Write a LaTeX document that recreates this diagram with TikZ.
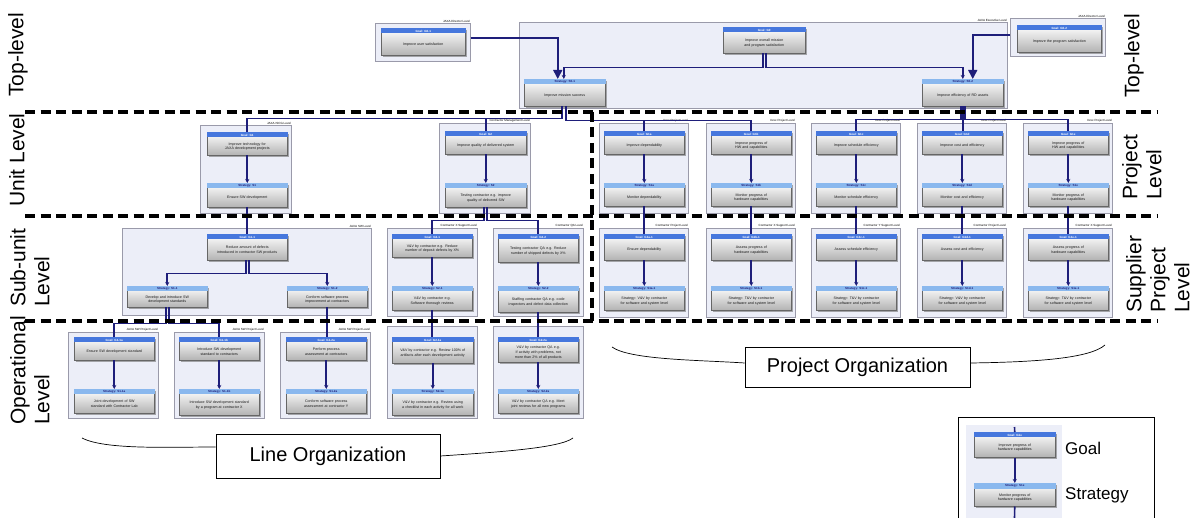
\documentclass[tikz,border=0pt]{standalone}
\usepackage{fontspec}
\setmainfont{Liberation Sans}
\usetikzlibrary{arrows.meta,shadows}
\definecolor{conncol}{HTML}{1E1E7A}
\definecolor{framefill}{HTML}{ECEEF8}
\definecolor{frameline}{HTML}{9A9AAA}
\definecolor{goalhdr}{HTML}{4677DD}
\definecolor{strathdr}{HTML}{8AB8EE}
\newcommand\nohyph{\hyphenpenalty 10000 \exhyphenpenalty 10000 }
\tikzset{
  frame/.style={draw=frameline, fill=framefill, line width=0.6pt, inner sep=0pt},
  bodybox/.style={draw=black!60, line width=0.5pt, top color=white, bottom color=black!30, inner sep=0pt,
     drop shadow={shadow xshift=1.3pt, shadow yshift=-1.3pt, fill=black!55, opacity=0.6}},
  ghdr/.style={fill=goalhdr},
  shdr/.style={fill=strathdr},
  ghdrtext/.style={text=white, font=\fontsize{3}{3.5}\selectfont\bfseries, inner sep=0pt},
  shdrtext/.style={text=conncol, font=\fontsize{3}{3.5}\selectfont\bfseries, inner sep=0pt},
  bodytext/.style={font=\fontsize{3.6}{4.6}\selectfont\nohyph, align=center, inner sep=0pt, text=black!90},
  conn/.style={draw=conncol, line width=1.6pt},
  arr/.style={-{Stealth[length=4pt,width=4pt]}},
  bigarr/.style={-{Triangle[length=9pt,width=9pt]}},
  sep/.style={draw=black, line width=3.6pt, dash pattern=on 10pt off 5.5pt},
  lvl/.style={rotate=90, anchor=north west, align=left, inner sep=0pt, font=\fontsize{21}{24}\selectfont},
  boxlabel/.style={font=\fontsize{3}{3.5}\selectfont, anchor=south east, inner sep=0.5pt},
  orgbox/.style={draw=black, line width=0.8pt, fill=white, font=\fontsize{20}{24}\selectfont, inner sep=0pt},
  brace/.style={draw=black, line width=0.7pt},
  legtext/.style={font=\fontsize{17}{20}\selectfont, anchor=west, inner sep=0pt},
}
\newcommand\gsbox[8]{%
  \node[bodybox, minimum width=#5pt, minimum height=#6pt, anchor=north west] (#1) at (#3,#4) {};
  \fill[#2] (#1.north west) rectangle ([yshift=-5.5pt]#1.north east);
  \node[#2text, anchor=north, minimum height=5.5pt] (#1-h) at (#1.north) {#7};
  \pgfmathsetmacro\gsw{#5-16}%
  \node[bodytext, text width=\gsw pt] (#1-t) at ([yshift=-2.75pt]#1.center) {#8};
}
\newcommand\frm[6]{%
  \node[frame, minimum width=#4pt, minimum height=#5pt, anchor=north west] (#1) at (#2,#3) {};
  \node[boxlabel] (#1-l) at (#1.north east) {#6};
}
\begin{document}
\begin{tikzpicture}[x=1pt,y=-1pt]
\useasboundingbox (0,0) rectangle (1197,518);

% ---------- frames ----------
\frm{fDL}{375}{23}{95}{38}{JAXA Director Level}
\frm{fEX}{519}{22}{488}{86}{JAXA Executive Level}
\frm{fDR}{1010}{18}{95}{38}{JAXA Director Level}
\frm{fA}{200}{125}{91}{88}{JAXA ISCG Level}
\frm{fB}{439}{123}{91}{90}{Contractor Management Level}
\frm{fP1}{599}{123}{89}{90}{Xxxx Project Level}
\frm{fP2}{706}{123}{89}{90}{Xxxx Project Level}
\frm{fP3}{811}{123}{89}{90}{Xxxx Project Level}
\frm{fP4}{917}{123}{89}{90}{Xxxx Project Level}
\frm{fP5}{1023}{123}{89}{90}{Xxxx Project Level}
\frm{fSW}{122}{228}{249}{87}{JAXA SW Level}
\frm{fC}{387}{228}{90}{88}{Contractor X Support Level}
\frm{fD}{493}{228}{90}{88}{Contractor QA Level}
\frm{fSP1}{599}{228}{89}{89}{Contractor Project Level}
\frm{fSP2}{706}{228}{89}{89}{Contractor X Support Level}
\frm{fSP3}{811}{228}{89}{89}{Contractor Y Support Level}
\frm{fSP4}{917}{228}{89}{89}{Contractor Project Level}
\frm{fSP5}{1023}{228}{89}{89}{Contractor X Support Level}
\frm{fO1}{68}{332}{90}{86}{JAXA SW Project Level}
\frm{fO2}{174}{332}{90}{86}{JAXA SW Project Level}
\frm{fO3}{280}{332}{90}{86}{JAXA SW Project Level}
\node[frame, minimum width=90pt, minimum height=92pt, anchor=north west] (fO4) at (387,326) {};
\node[frame, minimum width=90pt, minimum height=92pt, anchor=north west] (fO5) at (493,326) {};
\node[fill=framefill, minimum width=96pt, minimum height=93pt, anchor=north west, inner sep=0pt] (fL) at (966,425) {};

% ---------- coordinates ----------
\coordinate (legtop) at (1014.5,427);
\coordinate (legbot) at (1014.5,518);
\coordinate (lo1) at (82,438);
\coordinate (lo2) at (573,438);
\coordinate (po1) at (612,347);
\coordinate (po2) at (1105,345);

% ---------- nodes ----------
\gsbox{gDL}{ghdr}{381}{28}{84}{27}{Goal: G0-1}{Improve user satisfaction}
\gsbox{gE}{ghdr}{723}{27}{82}{26}{Goal: G0}{Improve overall mission and program satisfaction}
\gsbox{sE1}{shdr}{524}{79}{81}{27}{Strategy: S0-1}{Improve mission success}
\gsbox{sE2}{shdr}{922}{79}{81}{27}{Strategy: S0-2}{Improve efficiency of RD assets}
\gsbox{gDR}{ghdr}{1017}{25}{84}{27}{Goal: G0-2}{Improve the program satisfaction}

\gsbox{gA}{ghdr}{207}{132}{80}{23}{Goal: G1}{Improve technology for JAXA development projects}
\gsbox{sA}{shdr}{207}{183}{80}{24}{Strategy: S1}{Ensure SW development}
\gsbox{gB}{ghdr}{445}{131}{81}{23}{Goal: G2}{Improve quality of delivered system}
\gsbox{sB}{shdr}{445}{183}{81}{24}{Strategy: S2}{Testing contractor e.g. improve quality of delivered SW}

\gsbox{gP1}{ghdr}{604}{131}{80}{23}{Goal: G1a}{Improve dependability}
\gsbox{sP1}{shdr}{604}{183}{80}{23}{Strategy: S1a}{Monitor dependability}
\gsbox{gP2}{ghdr}{711}{131}{80}{23}{Goal: G1b}{Improve progress of HW and capabilities}
\gsbox{sP2}{shdr}{711}{183}{80}{23}{Strategy: S1b}{Monitor progress of hardware capabilities}
\gsbox{gP3}{ghdr}{816}{131}{80}{23}{Goal: G1c}{Improve schedule efficiency}
\gsbox{sP3}{shdr}{816}{183}{80}{23}{Strategy: S1c}{Monitor schedule efficiency}
\gsbox{gP4}{ghdr}{922}{131}{80}{23}{Goal: G1d}{Improve cost and efficiency}
\gsbox{sP4}{shdr}{922}{183}{80}{23}{Strategy: S1d}{Monitor cost and efficiency}
\gsbox{gP5}{ghdr}{1028}{131}{80}{23}{Goal: G1e}{Improve progress of HW and capabilities}
\gsbox{sP5}{shdr}{1028}{183}{80}{23}{Strategy: S1e}{Monitor progress of hardware capabilities}

\gsbox{gSW}{ghdr}{207}{234}{80}{26}{Goal: G1-1}{Reduce amount of defects introduced in contractor SW products}
\gsbox{sSW1}{shdr}{127}{286}{80}{21}{Strategy: S1-1}{Develop and introduce SW development standards}
\gsbox{sSW2}{shdr}{287}{286}{80}{21}{Strategy: S1-2}{Conform software process improvement at contractors}
\gsbox{gC}{ghdr}{392}{234}{80}{23}{Goal: G2-1}{V\&V by contractor e.g. Reduce number of deposit defects by X\%}
\gsbox{sC}{shdr}{392}{286}{80}{24}{Strategy: S2-1}{V\&V by contractor e.g. Software thorough reviews}
\gsbox{gD}{ghdr}{498}{234}{80}{28}{Goal: G2-2}{Testing contractor QA e.g. Reduce number of shipped defects by X\%}
\gsbox{sD}{shdr}{498}{286}{80}{26}{Strategy: S2-2}{Staffing contractor QA e.g. code inspectors and defect data collection}

\gsbox{gSP1}{ghdr}{604}{234}{80}{26}{Goal: G1a-1}{Ensure dependability}
\gsbox{sSP1}{shdr}{604}{286}{80}{24}{Strategy: S1a-1}{Strategy: V\&V by contractor for software and system level}
\gsbox{gSP2}{ghdr}{711}{234}{80}{26}{Goal: G1b-1}{Assess progress of hardware capabilities}
\gsbox{sSP2}{shdr}{711}{286}{80}{24}{Strategy: S1b-1}{Strategy: T\&V by contractor for software and system level}
\gsbox{gSP3}{ghdr}{816}{234}{80}{26}{Goal: G1c-1}{Assess schedule efficiency}
\gsbox{sSP3}{shdr}{816}{286}{80}{24}{Strategy: S1c-1}{Strategy: T\&V by contractor for software and system level}
\gsbox{gSP4}{ghdr}{922}{234}{80}{26}{Goal: G1d-1}{Assess cost and efficiency}
\gsbox{sSP4}{shdr}{922}{286}{80}{24}{Strategy: S1d-1}{Strategy: V\&V by contractor for software and system level}
\gsbox{gSP5}{ghdr}{1028}{234}{80}{26}{Goal: G1e-1}{Assess progress of hardware capabilities}
\gsbox{sSP5}{shdr}{1028}{286}{80}{24}{Strategy: S1e-1}{Strategy: T\&V by contractor for software and system level}

\gsbox{gO1}{ghdr}{74}{337}{80}{23}{Goal: G1-1a}{Ensure SW development standard}
\gsbox{sO1}{shdr}{74}{389}{80}{24}{Strategy: S1-1a}{Joint development of SW standard with Contractor Lab}
\gsbox{gO2}{ghdr}{179}{337}{80}{23}{Goal: G1-1b}{Introduce SW development standard to contractors}
\gsbox{sO2}{shdr}{179}{389}{80}{26}{Strategy: S1-1b}{Introduce SW development standard by a program at contractor X}
\gsbox{gO3}{ghdr}{286}{337}{80}{23}{Goal: G1-2a}{Perform process assessment at contractors}
\gsbox{sO3}{shdr}{286}{389}{80}{24}{Strategy: S1-2a}{Conform software process assessment at contractor Y}
\gsbox{gO4}{ghdr}{392}{337}{81}{26}{Goal: G2-1a}{V\&V by contractor e.g. Review 100\% of artifacts after each development activity}
\gsbox{sO4}{shdr}{392}{389}{81}{26}{Strategy: S2-1a}{V\&V by contractor e.g. Review using a checklist in each activity for all work}
\gsbox{gO5}{ghdr}{498}{337}{80}{25}{Goal: G2-2a}{V\&V by contractor QA e.g. If activity with problems, not more than 2\% of all products}
\gsbox{sO5}{shdr}{498}{389}{80}{24}{Strategy: S2-2a}{V\&V by contractor QA e.g. Meet joint reviews for all new programs}

\gsbox{gL}{ghdr}{974}{432}{81}{25}{Goal: G1e}{Improve progress of hardware capabilities}
\gsbox{sL}{shdr}{974}{483}{81}{23}{Strategy: S1e}{Monitor progress of hardware capabilities}

% ---------- connectors ----------
\draw[conn,bigarr] ([yshift=4pt]fDL.east) -| ([xshift=-7pt]sE1.north);
\draw[conn,arr] ([xshift=-1.5pt]gE.south) -- ++(0,14) -| ([xshift=-1pt]sE1.north);
\draw[conn,arr] ([xshift=1.5pt]gE.south) -- ++(0,14) -| (sE2.north);
\draw[conn,bigarr] ([yshift=2pt]fDR.west) -| ([xshift=10pt]sE2.north);

\draw[conn] ([xshift=-3pt]sE1.south) -- ++(0,12) -| (gA.north);
\draw[conn] ([xshift=-3pt]sE1.south) -- ++(0,12) -| (gB.north);
\draw[conn] ([xshift=1.5pt]sE1.south) -- ++(0,14) -| (gP1.north);
\draw[conn] ([xshift=1.5pt]sE1.south) -- ++(0,14) -| (gP2.north);
\draw[conn] ([xshift=-2pt]sE2.south) -- ++(0,13) -| (gP3.north);
\draw[conn] (sE2.south) -- (sE2.south |- gP4.north);
\draw[conn] ([xshift=2pt]sE2.south) -- ++(0,13) -| (gP5.north);

\foreach \i in {A,B,P1,P2,P3,P4,P5,C,D,SP1,SP2,SP3,SP4,SP5,O1,O2,O3,O4,O5}{
  \draw[conn,arr] (g\i.south) -- (s\i.north);
}
\draw[conn,arr] ([xshift=-1.5pt]gSW.south) -- ++(0,13) -| (sSW1.north);
\draw[conn,arr] ([xshift=1.5pt]gSW.south) -- ++(0,13) -| (sSW2.north);

\draw[conn] (sA.south) -- (sA.south |- gSW.north);
\draw[conn] ([xshift=-1.5pt]sB.south) -- ++(0,13) -| (gC.north);
\draw[conn] ([xshift=1.5pt]sB.south) -- ++(0,13) -| (gD.north);
\foreach \i in {1,...,5}{
  \draw[conn] (sP\i.south) -- (sP\i.south |- gSP\i.north);
}
\draw[conn] ([xshift=-1.5pt]sSW1.south) -- ++(0,16) -| (gO1.north);
\draw[conn] ([xshift=1.5pt]sSW1.south) -- ++(0,16) -| (gO2.north);
\draw[conn] (sSW2.south) -- (sSW2.south |- gO3.north);
\draw[conn] (sC.south) -- (sC.south |- gO4.north);
\draw[conn] (sD.south) -- (sD.south |- gO5.north);

\draw[conn] (legtop) -- (gL.north);
\draw[conn,arr] (gL.south) -- (sL.north);
\draw[conn] (sL.south) -- (legbot);

% ---------- separators ----------
\draw[sep] (25,112) -- (1158,112);
\draw[sep] (25,216) -- (1158,216);
\draw[sep] (25,321) -- (1158,321);
\draw[sep] (592,112) -- (592,321);

% ---------- level labels ----------
\node[lvl] (tl) at (8,97) {Top-level};
\node[lvl] (ul) at (9,207) {Unit Level};
\node[lvl] (sl) at (10,307) {Sub-unit\\Level};
\node[lvl] (ol) at (10,425) {Operational\\Level};
\node[lvl] (tr) at (1124,98) {Top-level};
\node[lvl] (pr) at (1122,200) {Project\\Level};
\node[lvl] (spr) at (1126,313) {Supplier\\Project\\Level};

% ---------- organizations ----------
\node[orgbox, minimum width=224pt, minimum height=44pt] (LO) at (328,456) {Line Organization};
\node[orgbox, minimum width=225pt, minimum height=40pt] (PO) at (857.5,367) {Project Organization};
\draw[brace] (lo1) .. controls (105,450) and (170,447) .. ([yshift=9pt]LO.west);
\draw[brace] (LO.east) .. controls (500,452) and (560,448) .. (lo2);
\draw[brace] (po1) .. controls (630,360) and (700,360) .. ([yshift=4pt]PO.west);
\draw[brace] ([yshift=4pt]PO.east) .. controls (1040,362) and (1090,358) .. (po2);

% ---------- legend ----------
\draw[line width=0.8pt] (958,518) -- (958,417) -- (1154,417) -- (1154,518);
\node[legtext] (lg) at (1065,448) {Goal};
\node[legtext] (ls) at (1065,495) {Strategy};
\end{tikzpicture}
\end{document}
